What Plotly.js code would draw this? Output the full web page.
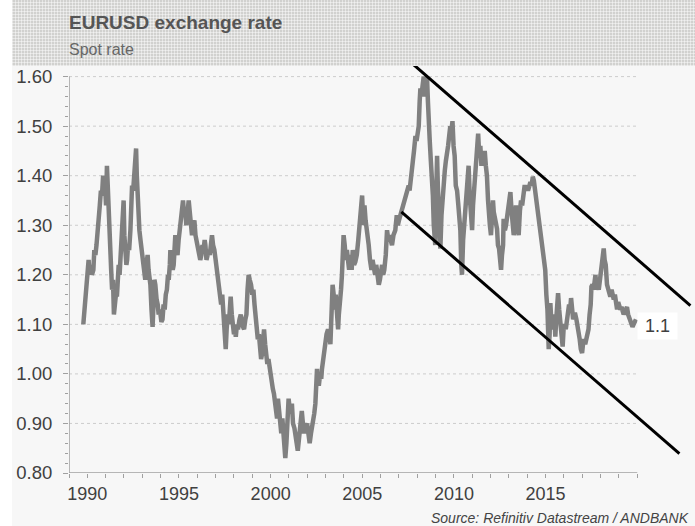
<!DOCTYPE html>
<html>
<head>
<meta charset="utf-8">
<script src="https://cdn.plot.ly/plotly-3.0.1.min.js"></script>
<style>
  html, body { margin: 0; padding: 0; background: #ffffff; }
  #wrap { position: relative; width: 695px; height: 526px; background: #ffffff; }
  #bg {
    position: absolute; left: 12px; top: 0; width: 683px; height: 526px;
    background:
      repeating-linear-gradient(90deg, rgba(255,255,255,0.45) 0 1px, rgba(0,0,0,0) 1px 3px) 0 0 / 100% 66px no-repeat,
      repeating-linear-gradient(0deg, rgba(255,255,255,0.45) 0 1px, rgba(0,0,0,0) 1px 3px) 0 0 / 100% 66px no-repeat,
      linear-gradient(#d1d1cf, #d1d1cf) 0 0 / 100% 66px no-repeat,
      #f7f7f7;
  }
  #chart { position: absolute; left: 0; top: 0; width: 695px; height: 526px; }
</style>
</head>
<body>
<div id="wrap"><div id="bg"></div><div id="chart"></div></div>
<script>
// ---- data ----
const years = [
1989.78,1989.82,1989.88,1989.95,1990.00,1990.07,1990.12,1990.18,1990.25,1990.33,1990.38,1990.44,1990.50,1990.56,1990.62,1990.68,1990.74,1990.80,1990.86,1990.92,1990.97,
1991.02,1991.07,1991.12,1991.16,1991.20,1991.25,1991.30,1991.35,1991.40,1991.45,1991.50,1991.56,1991.62,1991.66,1991.71,1991.76,1991.81,1991.85,1991.90,1991.94,1991.98,
1992.02,1992.08,1992.13,1992.17,1992.22,1992.28,1992.35,1992.40,1992.44,1992.50,1992.56,1992.62,1992.66,1992.70,1992.74,1992.79,1992.84,1992.90,1992.98,
1993.04,1993.10,1993.16,1993.22,1993.29,1993.34,1993.40,1993.44,1993.50,1993.56,1993.62,1993.66,1993.71,1993.78,1993.84,1993.89,1993.96,
1994.04,1994.10,1994.16,1994.22,1994.28,1994.34,1994.40,1994.44,1994.50,1994.53,1994.60,1994.66,1994.71,1994.76,1994.80,1994.86,1994.92,1994.98,
1995.04,1995.10,1995.16,1995.22,1995.28,1995.34,1995.40,1995.46,1995.53,1995.58,1995.64,1995.71,1995.78,1995.84,1995.90,1995.98,
1996.04,1996.10,1996.16,1996.22,1996.28,1996.34,1996.40,1996.44,1996.50,1996.56,1996.62,1996.68,1996.74,1996.80,1996.86,1996.93,
1997.00,1997.06,1997.12,1997.18,1997.24,1997.30,1997.36,1997.42,1997.48,1997.55,1997.60,1997.66,1997.72,1997.78,1997.82,1997.88,1997.94,
1998.00,1998.06,1998.10,1998.16,1998.22,1998.30,1998.37,1998.44,1998.50,1998.55,1998.62,1998.68,1998.74,1998.80,1998.86,1998.93,
1999.00,1999.06,1999.12,1999.18,1999.24,1999.30,1999.36,1999.42,1999.48,1999.53,1999.58,1999.64,1999.70,1999.76,1999.82,1999.88,1999.94,
2000.00,2000.06,2000.12,2000.18,2000.24,2000.30,2000.35,2000.40,2000.46,2000.52,2000.58,2000.64,2000.70,2000.76,2000.80,2000.86,2000.92,2000.98,
2001.04,2001.10,2001.16,2001.22,2001.30,2001.36,2001.42,2001.48,2001.54,2001.60,2001.66,2001.70,2001.76,2001.82,2001.88,2001.94,2001.99,
2002.06,2002.13,2002.20,2002.26,2002.32,2002.38,2002.44,2002.50,2002.53,2002.58,2002.64,2002.70,2002.76,2002.80,2002.86,2002.92,2002.98,
2003.05,2003.13,2003.20,2003.26,2003.32,2003.38,2003.44,2003.49,2003.55,2003.60,2003.68,2003.72,2003.78,2003.84,2003.89,2003.94,2003.98,
2004.04,2004.10,2004.16,2004.22,2004.28,2004.35,2004.42,2004.48,2004.55,2004.62,2004.70,2004.78,2004.84,2004.90,2004.99,
2005.06,2005.12,2005.18,2005.26,2005.35,2005.42,2005.50,2005.56,2005.62,2005.70,2005.76,2005.82,2005.90,2005.96,
2006.02,2006.08,2006.14,2006.20,2006.28,2006.35,2006.42,2006.48,2006.55,2006.62,2006.70,2006.80,2006.88,2006.94,
2007.00,2007.08,2007.17,2007.24,2007.30,2007.38,2007.45,2007.53,2007.58,2007.64,2007.70,2007.76,2007.82,2007.90,2007.96,
2008.02,2008.08,2008.13,2008.17,2008.22,2008.28,2008.35,2008.40,2008.46,2008.53,2008.58,2008.62,2008.68,2008.74,2008.80,2008.85,2008.90,2008.94,2008.98,
2009.02,2009.08,2009.12,2009.17,2009.22,2009.26,2009.32,2009.38,2009.44,2009.50,2009.56,2009.62,2009.68,2009.74,2009.80,2009.86,2009.92,2009.98,
2010.04,2010.10,2010.17,2010.24,2010.30,2010.35,2010.40,2010.44,2010.50,2010.56,2010.62,2010.68,2010.74,2010.80,2010.86,2010.92,2010.99,
2011.04,2011.10,2011.16,2011.22,2011.28,2011.32,2011.38,2011.44,2011.50,2011.56,2011.62,2011.68,2011.74,2011.80,2011.86,2011.90,2011.96,
2012.02,2012.08,2012.13,2012.17,2012.22,2012.28,2012.35,2012.40,2012.46,2012.52,2012.57,2012.62,2012.68,2012.71,2012.78,2012.84,2012.90,2012.96,
2013.02,2013.08,2013.14,2013.20,2013.26,2013.32,2013.38,2013.44,2013.48,2013.53,2013.60,2013.66,2013.72,2013.80,2013.86,2013.92,2013.98,
2014.04,2014.10,2014.17,2014.24,2014.30,2014.36,2014.44,2014.50,2014.56,2014.62,2014.68,2014.74,2014.80,2014.86,2014.92,2014.98,
2015.04,2015.10,2015.17,2015.22,2015.26,2015.32,2015.38,2015.44,2015.50,2015.53,2015.58,2015.63,2015.68,2015.74,2015.80,2015.86,2015.93,2015.98,
2016.04,2016.10,2016.16,2016.22,2016.28,2016.34,2016.39,2016.45,2016.50,2016.56,2016.62,2016.68,2016.74,2016.80,2016.86,2016.92,2016.99,
2017.04,2017.10,2017.16,2017.22,2017.28,2017.34,2017.40,2017.46,2017.50,2017.56,2017.62,2017.68,2017.72,2017.78,2017.84,2017.90,2017.96,2017.99,
2018.06,2018.12,2018.17,2018.22,2018.28,2018.35,2018.42,2018.48,2018.53,2018.60,2018.66,2018.72,2018.78,2018.84,2018.90,2018.96,
2019.02,2019.08,2019.14,2019.20,2019.26,2019.32,2019.38,2019.44,2019.50,2019.56,2019.62,2019.68,2019.74,2019.80,2019.86,2019.93
];
const spotRate = [
1.10,1.12,1.15,1.20,1.22,1.23,1.20,1.22,1.20,1.21,1.25,1.24,1.26,1.30,1.33,1.34,1.37,1.36,1.40,1.37,1.38,
1.34,1.42,1.36,1.34,1.30,1.27,1.21,1.17,1.19,1.12,1.14,1.16,1.16,1.20,1.22,1.20,1.24,1.23,1.27,1.30,1.35,
1.28,1.25,1.22,1.23,1.26,1.25,1.29,1.32,1.38,1.37,1.41,1.43,1.455,1.40,1.36,1.33,1.29,1.27,1.24,
1.22,1.20,1.19,1.22,1.24,1.21,1.19,1.18,1.13,1.095,1.15,1.19,1.18,1.15,1.14,1.12,1.13,
1.105,1.11,1.14,1.13,1.16,1.17,1.20,1.19,1.22,1.25,1.23,1.21,1.22,1.25,1.28,1.25,1.24,1.27,
1.29,1.31,1.33,1.35,1.32,1.33,1.30,1.32,1.35,1.33,1.30,1.28,1.30,1.31,1.28,1.26,
1.25,1.24,1.23,1.24,1.26,1.25,1.27,1.26,1.23,1.24,1.25,1.24,1.27,1.28,1.26,1.25,
1.23,1.21,1.19,1.17,1.15,1.14,1.16,1.13,1.10,1.05,1.09,1.12,1.10,1.13,1.156,1.12,1.10,
1.08,1.09,1.075,1.10,1.09,1.11,1.12,1.10,1.09,1.09,1.11,1.12,1.17,1.20,1.19,1.18,
1.16,1.17,1.14,1.12,1.09,1.07,1.08,1.05,1.03,1.04,1.06,1.09,1.06,1.04,1.02,1.03,1.01,
1.00,0.98,0.97,0.96,0.94,0.92,0.91,0.95,0.92,0.90,0.88,0.91,0.87,0.85,0.83,0.86,0.90,0.95,
0.93,0.92,0.94,0.90,0.89,0.88,0.86,0.845,0.87,0.90,0.91,0.925,0.90,0.88,0.89,0.90,0.90,
0.88,0.86,0.88,0.89,0.90,0.92,0.94,0.99,1.01,0.98,0.98,1.00,0.99,1.01,1.03,1.05,1.07,
1.08,1.09,1.08,1.06,1.12,1.18,1.16,1.13,1.16,1.13,1.09,1.12,1.14,1.17,1.20,1.24,1.28,
1.26,1.23,1.25,1.22,1.21,1.24,1.21,1.25,1.22,1.226,1.24,1.27,1.30,1.33,1.36,
1.30,1.34,1.31,1.29,1.26,1.23,1.21,1.23,1.21,1.20,1.22,1.19,1.18,1.19,
1.21,1.22,1.20,1.21,1.24,1.29,1.27,1.28,1.27,1.26,1.28,1.29,1.32,1.30,
1.31,1.32,1.33,1.34,1.35,1.36,1.37,1.38,1.37,1.40,1.42,1.43,1.45,1.48,1.47,
1.49,1.50,1.55,1.576,1.56,1.58,1.60,1.56,1.58,1.60,1.55,1.495,1.47,1.43,1.40,1.36,1.30,1.27,1.26,
1.34,1.44,1.38,1.30,1.27,1.253,1.32,1.36,1.394,1.41,1.43,1.44,1.46,1.48,1.50,1.49,1.51,1.46,
1.44,1.38,1.37,1.34,1.32,1.29,1.22,1.20,1.27,1.30,1.36,1.37,1.39,1.42,1.36,1.33,1.29,
1.34,1.37,1.41,1.43,1.46,1.485,1.44,1.46,1.42,1.44,1.428,1.45,1.42,1.40,1.35,1.32,1.30,
1.28,1.31,1.35,1.327,1.32,1.31,1.293,1.26,1.253,1.23,1.21,1.24,1.26,1.313,1.29,1.30,1.32,1.33,
1.34,1.367,1.33,1.30,1.28,1.30,1.34,1.31,1.30,1.28,1.33,1.35,1.34,1.36,1.381,1.37,1.38,
1.37,1.38,1.387,1.38,1.398,1.39,1.367,1.36,1.34,1.33,1.31,1.29,1.27,1.25,1.24,1.21,
1.16,1.13,1.05,1.08,1.143,1.10,1.12,1.09,1.10,1.075,1.11,1.13,1.163,1.13,1.10,1.08,1.055,1.09,
1.10,1.09,1.11,1.13,1.14,1.13,1.153,1.13,1.11,1.12,1.12,1.11,1.10,1.09,1.07,1.05,1.042,
1.06,1.07,1.06,1.07,1.08,1.09,1.12,1.14,1.176,1.18,1.17,1.19,1.20,1.17,1.18,1.17,1.19,1.20,
1.23,1.24,1.253,1.23,1.22,1.18,1.17,1.16,1.156,1.17,1.16,1.15,1.16,1.14,1.13,1.145,
1.14,1.13,1.135,1.125,1.12,1.125,1.13,1.135,1.12,1.115,1.11,1.105,1.095,1.10,1.105,1.11
];
// hand-drawn channel lines (endpoints)
const upperLineX = [2007.80, 2022.90];
const upperLineY = [1.624, 1.138];
const lowerLineX = [2007.13, 2022.30];
const lowerLineY = [1.327, 0.839];
// axis / labels
const xTickVals = [1990, 1995, 2000, 2005, 2010, 2015];
const xTickText = ['1990', '1995', '2000', '2005', '2010', '2015'];
const xMinorVals = [1989,1991,1992,1993,1994,1996,1997,1998,1999,2001,2002,2003,2004,2006,2007,2008,2009,2011,2012,2013,2014,2016,2017,2018,2019,2020];
const yTickVals = [0.8, 0.9, 1.0, 1.1, 1.2, 1.3, 1.4, 1.5, 1.6];
const yTickText = ['0.80', '0.90', '1.00', '1.10', '1.20', '1.30', '1.40', '1.50', '1.60'];
const yMinorVals = [0.82,0.84,0.86,0.88,0.92,0.94,0.96,0.98,1.02,1.04,1.06,1.08,1.12,1.14,1.16,1.18,1.22,1.24,1.26,1.28,1.32,1.34,1.36,1.38,1.42,1.44,1.46,1.48,1.52,1.54,1.56,1.58];
const gridVals = [0.9, 1.0, 1.1, 1.2, 1.3, 1.4, 1.5, 1.6];
const axisStart = 1989, axisEnd = 2020, yAxisMin = 0.8, yAxisMax = 1.6;
const lastLabel = '1.1';
const lastLabelValue = 1.1;
const titleText = 'EURUSD exchange rate';
const subtitleText = 'Spot rate';
const sourceText = 'Source: Refinitiv Datastream / ANDBANK';

const axisColor = '#a0a0a0';
const font = 'Liberation Sans, Arial, sans-serif';

const shapes = [];
gridVals.forEach(v => shapes.push({
  type: 'line', xref: 'x', yref: 'y', x0: axisStart, x1: axisEnd, y0: v, y1: v,
  line: { color: '#cdcdcd', width: 1, dash: 'dot' }, layer: 'below'
}));
shapes.push({ type: 'line', xref: 'x', yref: 'y', x0: axisStart, x1: axisEnd, y0: yAxisMin, y1: yAxisMin,
  line: { color: axisColor, width: 1.5 }, layer: 'above' });
shapes.push({ type: 'line', xref: 'x', yref: 'y', x0: axisStart, x1: axisStart, y0: yAxisMin, y1: yAxisMax,
  line: { color: axisColor, width: 1.5 }, layer: 'above' });

const traces = [
  { x: years, y: spotRate, type: 'scatter', mode: 'lines',
    line: { color: '#808080', width: 4.5 }, hoverinfo: 'skip' },
  { x: upperLineX, y: upperLineY, type: 'scatter', mode: 'lines',
    line: { color: '#000000', width: 3 }, hoverinfo: 'skip' },
  { x: lowerLineX, y: lowerLineY, type: 'scatter', mode: 'lines',
    line: { color: '#000000', width: 3 }, hoverinfo: 'skip' }
];

const layout = {
  width: 695, height: 526,
  margin: { l: 69, r: 0, t: 66, b: 53 },
  paper_bgcolor: 'rgba(0,0,0,0)', plot_bgcolor: 'rgba(0,0,0,0)',
  showlegend: false, hovermode: false,
  xaxis: {
    range: [1989, 2023.15], showgrid: false, zeroline: false, showline: false,
    tickmode: 'array', tickvals: xTickVals, ticktext: xTickText,
    ticks: 'outside', ticklen: 4, tickwidth: 1, tickcolor: axisColor,
    tickfont: { family: font, size: 18, color: '#404040' },
    minor: { tickmode: 'array', tickvals: xMinorVals, ticks: 'outside', ticklen: 4, tickwidth: 1, tickcolor: axisColor, showgrid: false },
    fixedrange: true
  },
  yaxis: {
    range: [0.8, 1.6214], showgrid: false, zeroline: false, showline: false,
    tickmode: 'array', tickvals: yTickVals, ticktext: yTickText,
    ticks: 'outside', ticklen: 5, tickwidth: 1, tickcolor: axisColor,
    tickfont: { family: font, size: 18.5, color: '#404040' },
    ticklabelstandoff: 7,
    minor: { tickmode: 'array', tickvals: yMinorVals, ticks: 'outside', ticklen: 3, tickwidth: 1, tickcolor: axisColor, showgrid: false },
    fixedrange: true
  },
  shapes: shapes,
  annotations: [
    { text: '<b>' + titleText + '</b>', xref: 'paper', yref: 'paper', x: 0, xshift: -2, y: 1 + (66 - 22) / 407,
      xanchor: 'left', yanchor: 'middle', showarrow: false,
      font: { family: font, size: 19, color: '#555555' } },
    { text: subtitleText, xref: 'paper', yref: 'paper', x: 0, xshift: -2, y: 1 + (66 - 50) / 407,
      xanchor: 'left', yanchor: 'middle', showarrow: false,
      font: { family: font, size: 16, color: '#666666' } },
    { text: sourceText, xref: 'paper', yref: 'paper', x: 1, xshift: -4, y: -(518 - 473) / 407,
      xanchor: 'right', yanchor: 'middle', showarrow: false,
      font: { family: font, size: 14, color: '#444444', style: 'italic' } },
    { text: lastLabel, xref: 'x', yref: 'y', x: 2021.11, y: lastLabelValue, yshift: -2,
      xanchor: 'center', yanchor: 'middle', showarrow: false,
      bgcolor: '#ffffff', borderpad: 3, width: 33, height: 20,
      font: { family: font, size: 18, color: '#404040' } }
  ]
};

Plotly.newPlot('chart', traces, layout, { staticPlot: true, displayModeBar: false });
</script>
</body>
</html>
